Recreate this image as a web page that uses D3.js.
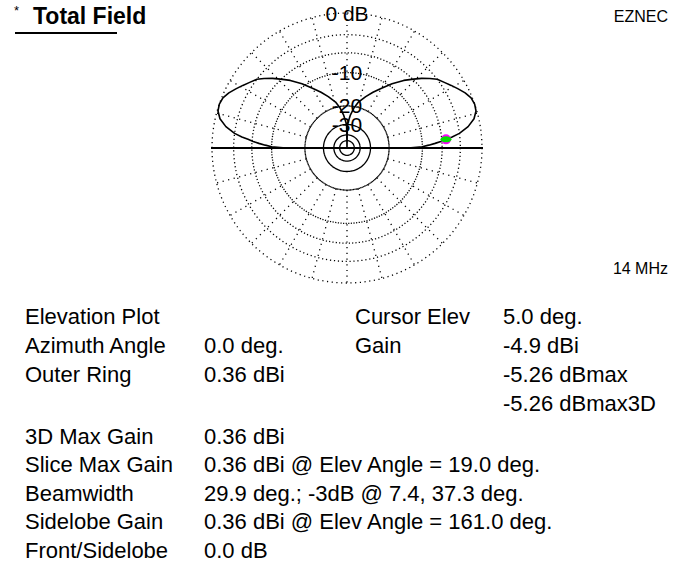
<!DOCTYPE html>
<html>
<head>
<meta charset="utf-8">
<script src="https://cdn.jsdelivr.net/npm/d3@7"></script>
<style>
    body { margin: 0; background: #fff; }
    text { font-family: "Liberation Sans", Arial, sans-serif; fill: #000; }
</style>
</head>
<body>
<svg id="chart" width="686" height="569"></svg>
<script>
// elevation angles (deg) and total field gain (dBi)
const elevDeg = [0, 1, 2, 3, 4, 5, 6, 7.4, 10, 13, 16, 19, 22, 25, 28, 31, 34, 37.3, 40, 43, 46, 50, 55, 60, 65, 70, 76, 80, 84, 88, 89, 90,
    91, 92, 96, 100, 104, 110, 115, 120, 125, 130, 134, 137, 140, 142.7, 146, 149, 152, 155, 158, 161, 164, 167, 170, 172.6, 174, 175, 176, 177, 178, 179, 180]
const gainDbi = [-13.24, -9.64, -8.24, -6.94, -5.84, -4.9, -3.84, -2.64, -1.24, -0.24, 0.26, 0.36, 0.21, -0.24, -0.84, -1.44, -2.04, -2.64, -3.44, -4.44, -5.54, -6.94, -8.94, -11.14, -13.14, -15.14, -17.64, -20.14, -23.64, -28.64, -29.64,
    null,
    -29.64, -28.64, -23.64, -20.14, -17.64, -15.14, -13.14, -11.14, -8.94, -6.94, -5.54, -4.44, -3.44, -2.64, -2.04, -1.44, -0.84, -0.24, 0.21, 0.36, 0.26, -0.24, -1.24, -2.64, -3.84, -4.9, -5.84, -6.94, -8.24, -9.64, -13.24]

const outerRingDbi = 0.36
const ringDb = [0, -3, -6, -10, -20, -30, -40, -50]
const ringLabels = [{db: 0, text: "0 dB"}, {db: -10, text: "-10"}, {db: -20, text: "-20"}, {db: -30, text: "-30"}]
const spokeDeg = d3.range(0, 360, 15)

const cursorElev = 5.0
const cursorGain = -4.9

const leftRows = [
    ["Elevation Plot", ""],
    ["Azimuth Angle", "0.0 deg."],
    ["Outer Ring", "0.36 dBi"],
    ["", ""],
    ["3D Max Gain", "0.36 dBi"],
    ["Slice Max Gain", "0.36 dBi @ Elev Angle = 19.0 deg."],
    ["Beamwidth", "29.9 deg.; -3dB @ 7.4, 37.3 deg."],
    ["Sidelobe Gain", "0.36 dBi @ Elev Angle = 161.0 deg."],
    ["Front/Sidelobe", "0.0 dB"]
]
const rightRows = [
    ["Cursor Elev", "5.0 deg."],
    ["Gain", "-4.9 dBi"],
    ["", "-5.26 dBmax"],
    ["", "-5.26 dBmax3D"]
]

const svg = d3.select("#chart")
const cx = 347, cy = 148, R = 135

// ARRL log scale: 2 dB per 0.89 step, expressed on linear power ratio
const arrlExp = -Math.log(0.89) / 2 * 10 / Math.LN10
const rScale = d3.scalePow().exponent(arrlExp).domain([0, 1]).range([0, R])
const rDb = db => rScale(Math.pow(10, db / 10))
const rGain = g => g === null ? 0 : rDb(g - outerRingDbi)

const plot = svg.append("g").attr("transform", `translate(${cx},${cy})`)

/* grid rings, dotted at fixed angle step so small rings look solid */
plot.selectAll("circle.ring")
    .data(ringDb)
    .enter().append("circle")
    .attr("class", "ring")
    .attr("r", d => rDb(d))
    .attr("fill", "none")
    .attr("stroke", "#000")
    .attr("stroke-width", 1.3)
    .attr("stroke-dasharray", d => {
        const period = 2 * Math.PI * rDb(d) / 180
        return `1.2 ${Math.max(period - 1.2, 0.01)}`
    })

/* spokes */
plot.selectAll("line.spoke")
    .data(spokeDeg)
    .enter().append("line")
    .attr("class", "spoke")
    .attr("x1", d => rDb(-20) * Math.cos(d * Math.PI / 180))
    .attr("y1", d => -rDb(-20) * Math.sin(d * Math.PI / 180))
    .attr("x2", d => R * Math.cos(d * Math.PI / 180))
    .attr("y2", d => -R * Math.sin(d * Math.PI / 180))
    .attr("stroke", "#000")
    .attr("stroke-width", 1.3)
    .attr("stroke-dasharray", "1.2 4.5")

/* horizon line */
plot.append("line")
    .attr("x1", -R - 1).attr("x2", R + 1)
    .attr("y1", 0).attr("y2", 0)
    .attr("stroke", "#000")
    .attr("stroke-width", 2)

plot.selectAll("text.ringlabel")
    .data(ringLabels)
    .enter().append("text")
    .attr("class", "ringlabel")
    .attr("x", 0)
    .attr("y", d => -rDb(d.db))
    .attr("dy", "0.36em")
    .attr("text-anchor", "middle")
    .style("font-size", "21px")
    .text(d => d.text)

const pattern = elevDeg.map((el, i) => ({el: el, g: gainDbi[i]}))
const line = d3.lineRadial()
    .angle(d => (90 - d.el) * Math.PI / 180)
    .radius(d => rGain(d.g))

plot.append("path")
    .datum(pattern)
    .attr("d", line)
    .attr("fill", "none")
    .attr("stroke", "#000")
    .attr("stroke-width", 1.6)
    .attr("stroke-linejoin", "round")

/* cursor marker */
const cr = rGain(cursorGain)
const cxm = cr * Math.cos(cursorElev * Math.PI / 180)
const cym = -cr * Math.sin(cursorElev * Math.PI / 180)
plot.append("circle").attr("cx", cxm).attr("cy", cym).attr("r", 5).attr("fill", "#ff00ff")
plot.append("ellipse").attr("cx", cxm).attr("cy", cym).attr("rx", 5.5).attr("ry", 3).attr("fill", "#00e000")

/* header texts */
svg.append("text").attr("x", 14).attr("y", 15).style("font-size", "13px").text("*")
svg.append("text").attr("x", 33).attr("y", 24).style("font-size", "23px").style("font-weight", "bold").text("Total Field")
svg.append("line").attr("x1", 15).attr("x2", 117).attr("y1", 33).attr("y2", 33).attr("stroke", "#000").attr("stroke-width", 2)
svg.append("text").attr("x", 668).attr("y", 22).attr("text-anchor", "end").style("font-size", "16px").text("EZNEC")
svg.append("text").attr("x", 668).attr("y", 274).attr("text-anchor", "end").style("font-size", "16px").text("14 MHz")

/* info block */
const rowY = [324, 353, 382, 411, 444, 472, 501, 529, 558]
const info = svg.append("g").style("font-size", "22px")
leftRows.forEach((row, i) => {
    info.append("text").attr("x", 25).attr("y", rowY[i]).text(row[0])
    info.append("text").attr("x", 204).attr("y", rowY[i]).text(row[1])
})
rightRows.forEach((row, i) => {
    info.append("text").attr("x", 355).attr("y", rowY[i]).text(row[0])
    info.append("text").attr("x", 503).attr("y", rowY[i]).text(row[1])
})
</script>
</body>
</html>
